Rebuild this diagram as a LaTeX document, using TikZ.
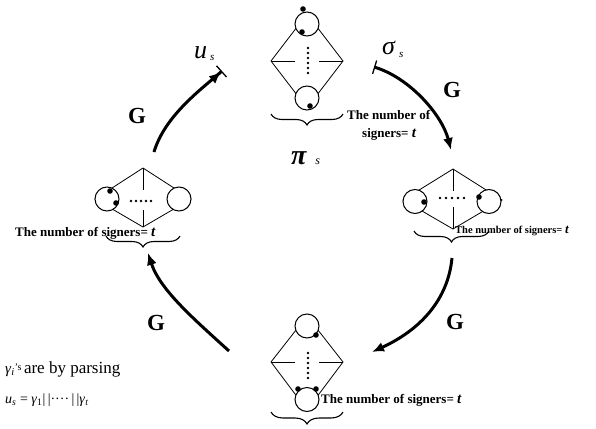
\documentclass[tikz,border=0pt]{standalone}
\usepackage{fontspec}
\setmainfont{Liberation Serif}
\usetikzlibrary{arrows.meta,decorations.pathreplacing}
\begin{document}
\begin{tikzpicture}[x=1pt,y=-1pt,
  edge/.style={line width=0.8pt},
  ring/.style={draw, line width=1pt, fill=white},
  brc/.style={decorate, decoration={brace, mirror, amplitude=11pt}, line width=1.1pt},
  flow/.style={line width=3pt, -{Latex[length=12pt,width=10pt]}},
  lbl/.style={inner sep=0pt, anchor=base west, font=\fontsize{13}{15}\selectfont\bfseries},
  glab/.style={font=\fontsize{23}{25}\selectfont\bfseries, inner sep=0pt},
  sym/.style={inner sep=0pt, anchor=base west, font=\fontsize{26}{28}\selectfont\itshape}
]
\useasboundingbox (0,0) rectangle (596,428);

% ---------- top diamond ----------
\draw[edge] (307,14) -- (343,61) -- (307,108) -- (271,61) -- cycle;
\draw[edge] (271,61) -- (295,61) (319,61) -- (343,61);
\foreach \y in {48,53,...,73} \fill (308,\y) circle (1.3pt);
\draw[ring] (307,24) circle (12pt);
\draw[ring] (307,98) circle (12pt);
\fill (303,9) circle (2.8pt);
\fill (302,32) circle (2.8pt);
\fill (310,106) circle (2.8pt);
\draw[brc] (271,114) -- (343,114);
\node[lbl] (t1a) at (347,119) {The number of};
\node[lbl] (t1b) at (362,137) {signers= {\fontsize{15}{15}\selectfont\textit{t}}};
\node[sym, font=\fontsize{28}{30}\selectfont\bfseries\itshape] (pis) at (291,164) {π\hspace{9pt}{\fontsize{12}{12}\selectfont\mdseries s}};

% ---------- right diamond ----------
\draw[edge] (453,169) -- (502,200) -- (453,229) -- (403,200) -- cycle;
\draw[edge] (453,169) -- (453,191) (453,207) -- (453,229);
\foreach \x in {440,446,...,464} \fill (\x,198) circle (1.3pt);
\draw[ring] (415,201.5) circle (12pt);
\draw[ring] (489,201.5) circle (12pt);
\fill (424,202) circle (2.8pt);
\fill (479,197) circle (2.8pt);
\draw[brc] (414,231) -- (489,231);
\node[lbl, font=\fontsize{10.5}{12}\selectfont\bfseries] (t2) at (455,233) {The number of signers= {\fontsize{13}{13}\selectfont\textit{t}}};

% ---------- left diamond ----------
\draw[edge] (143,168) -- (191,199) -- (143,227) -- (95,199) -- cycle;
\draw[edge] (143,168) -- (143,190) (143,210) -- (143,227);
\foreach \x in {131,136,...,151} \fill (\x,201) circle (1.3pt);
\draw[ring] (107,199) circle (12pt);
\draw[ring] (179,199) circle (12pt);
\fill (110,191) circle (2.8pt);
\fill (116,203) circle (2.8pt);
\node[lbl] (t3) at (15,236) {The number of signers= {\fontsize{15}{15}\selectfont\textit{t}}};
\draw[brc] (106,236) -- (180,236);

% ---------- bottom diamond ----------
\draw[edge] (307,316) -- (343,362) -- (307,410) -- (271,362) -- cycle;
\draw[edge] (271,362) -- (295,362) (319,362) -- (343,362);
\foreach \y in {353,358,...,378} \fill (308,\y) circle (1.3pt);
\draw[ring] (307,326) circle (12pt);
\draw[ring] (307,399.5) circle (12pt);
\fill (316,335) circle (2.8pt);
\fill (298,389) circle (2.8pt);
\fill (316,389) circle (2.8pt);
\draw[brc, decoration={amplitude=12pt}] (271,412) -- (343,412);
\node[lbl] (t4) at (321,403) {The number of signers= {\fontsize{15}{15}\selectfont\textit{t}}};

% ---------- symbols ----------
\node[sym] (us) at (194,58) {u\hspace{3pt}{\fontsize{11}{11}\selectfont\raisebox{-2pt}{s}}};
\node[sym] (sig) at (382,55) {σ\hspace{4pt}{\fontsize{11}{11}\selectfont\raisebox{-2pt}{s}}};

% ---------- G labels ----------
\node[glab] (g1) at (137,116) {G};
\node[glab] (g2) at (452,90) {G};
\node[glab] (g3) at (455,322) {G};
\node[glab] (g4) at (156,323) {G};

% ---------- arrows ----------
\coordinate (a1s) at (154,152);
\coordinate (a1e) at (222,71);
\coordinate (a2s) at (374,67);
\coordinate (a2e) at (451,150);
\coordinate (a3s) at (452,258);
\coordinate (a3e) at (372,352);
\coordinate (a4s) at (229,351);
\coordinate (a4e) at (148,253);
\draw[flow, -{Latex[length=12pt,width=10pt] Bar[width=15pt,line width=1.3pt]}]
  (a1s) .. controls (165,115) and (203,88) .. (a1e);
\draw[flow, {Bar[width=14pt,line width=1.3pt]}-{Latex[length=12pt,width=10pt]}]
  (a2s) .. controls (410,78) and (442,115) .. (a2e);
\draw[flow] (a3s) .. controls (448,300) and (420,330) .. (a3e);
\draw[flow] (a4s) .. controls (195,320) and (160,290) .. (a4e);

% ---------- bottom-left text ----------
\node[inner sep=0pt, anchor=base west] (p1) at (5,373)
  {{\fontsize{15}{15}\selectfont\textit{γ}\textsubscript{\textit{i}}\raisebox{3pt}{\fontsize{10}{10}\selectfont ’s}}\ {\fontsize{17}{18}\selectfont are by parsing}};
\node[inner sep=0pt, anchor=base west, font=\fontsize{14}{15}\selectfont] (p2) at (5,403)
  {\textit{u}\textsubscript{\textit{s}} = \textit{γ}\textsubscript{1}|\,|····\,|\,|\textit{γ}\textsubscript{\textit{t}}};
\end{tikzpicture}
\end{document}
